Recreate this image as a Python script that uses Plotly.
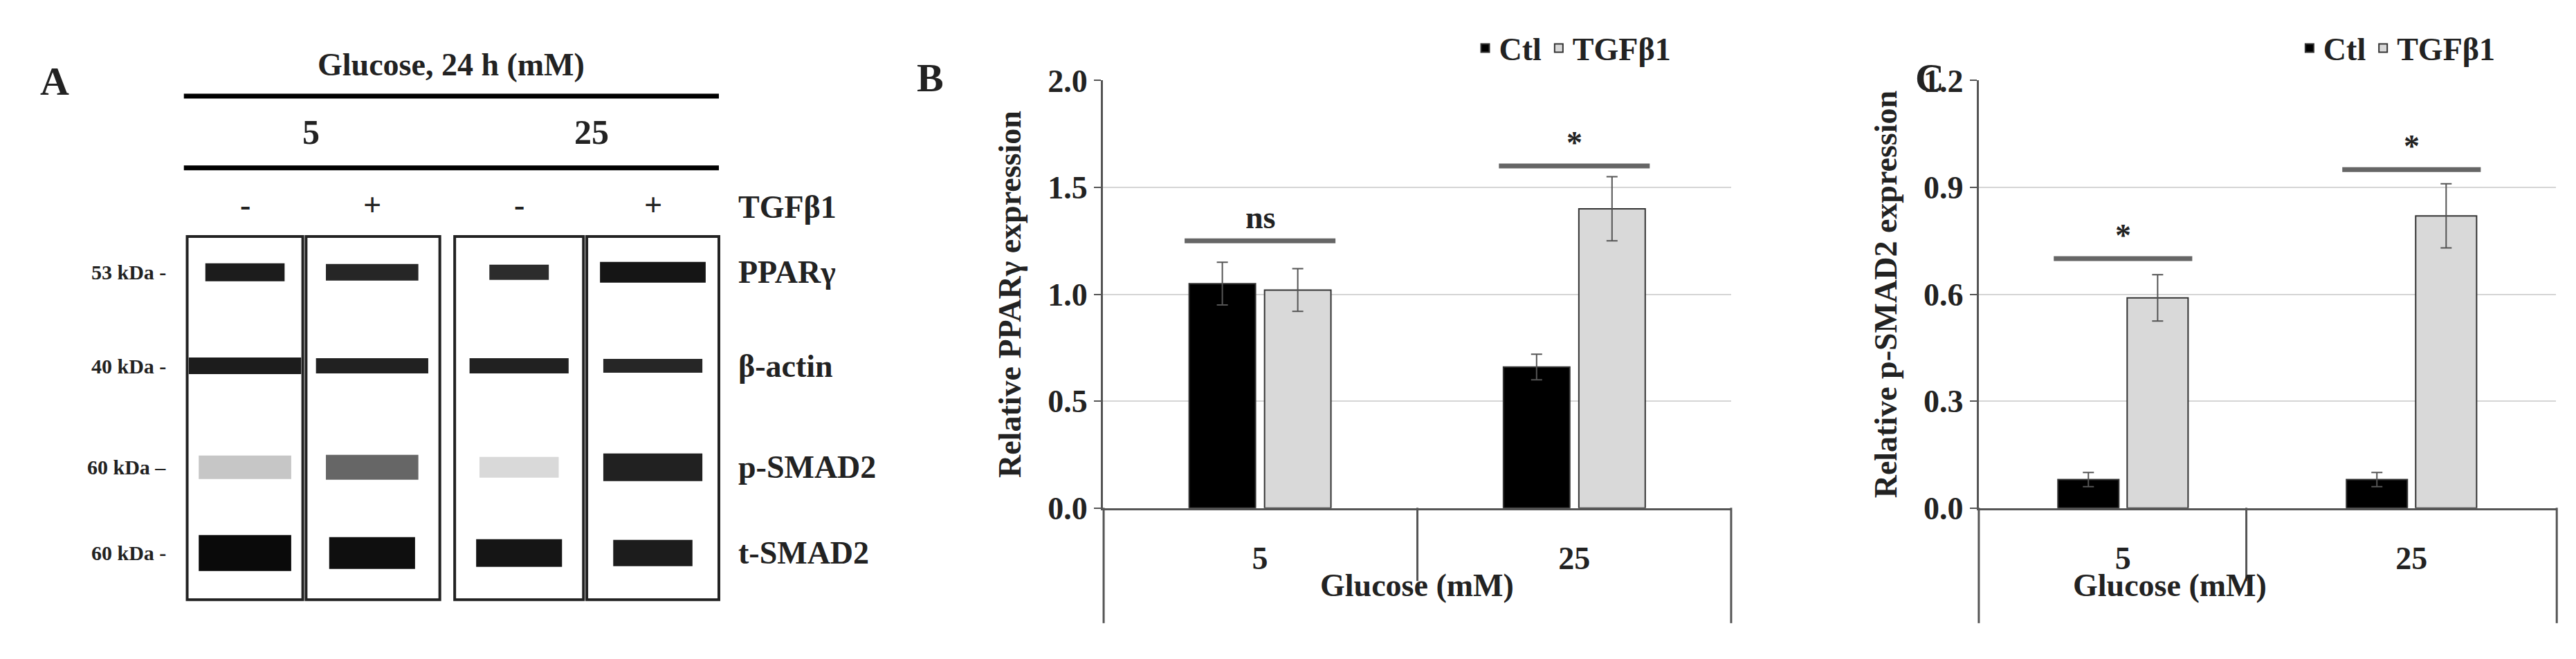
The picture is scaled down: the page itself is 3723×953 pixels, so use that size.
import plotly.graph_objects as go

# ---------------- data ----------------
groups = ["5", "25"]
group_x = [0, 1]
ppar_ctl = [1.05, 0.66]
ppar_ctl_err = [0.10, 0.06]
ppar_tgf = [1.02, 1.40]
ppar_tgf_err = [0.10, 0.15]
smad_ctl = [0.08, 0.08]
smad_ctl_err = [0.02, 0.02]
smad_tgf = [0.59, 0.82]
smad_tgf_err = [0.065, 0.09]
b_ticks = [0.0, 0.5, 1.0, 1.5, 2.0]
c_ticks = [0.0, 0.3, 0.6, 0.9, 1.2]

# blot: lanes (5-, 5+, 25-, 25+), proteins and band intensities (0..1)
lane_pos = [145, 222, 311, 392]
lane_signs = ["-", "+", "-", "+"]
proteins = ["PPARγ", "β-actin", "p-SMAD2", "t-SMAD2"]
kda = ["53 kDa -", "40 kDa -", "60 kDa –", "60 kDa -"]
row_pos = [160, 220, 285, 340]
band_int = [[0.92, 0.88, 0.85, 0.95],
            [0.92, 0.9, 0.9, 0.88],
            [0.18, 0.6, 0.1, 0.9],
            [1.0, 0.98, 0.95, 0.92]]
band_len = [[24, 28, 18, 32], [34, 34, 30, 30], [28, 28, 24, 30], [28, 26, 26, 24]]
band_thick = [[26, 24, 22, 30], [24, 22, 22, 20], [34, 36, 30, 40], [52, 46, 40, 38]]

FONT = "Liberation Serif"
fs = 46
BF = dict(size=fs, family=FONT, color="#222", weight="bold")

fig = go.Figure()

# ---- panel A (overlay axis in reference-pixel units) ----
for r in range(4):
    for l in range(4):
        g = int(round(255 * (1 - band_int[r][l]) * 0.9 + 10))
        c = f"rgb({g},{g},{g})"
        fig.add_trace(go.Scatter(
            x=[lane_pos[l] - band_len[r][l], lane_pos[l] + band_len[r][l]],
            y=[row_pos[r], row_pos[r]], mode="lines",
            line=dict(color=c, width=band_thick[r][l]),
            xaxis="x3", yaxis="y3", showlegend=False, hoverinfo="skip"))

def bars(ctl, ctl_err, tgf, tgf_err, xa, ya, lg):
    fig.add_trace(go.Bar(x=group_x, y=ctl, name="Ctl", marker=dict(color="black", line=dict(color="#333", width=2)),
                         error_y=dict(type="data", array=ctl_err, color="#555", thickness=2, width=8),
                         xaxis=xa, yaxis=ya, legend=lg))
    fig.add_trace(go.Bar(x=group_x, y=tgf, name="TGFβ1", marker=dict(color="#d9d9d9", line=dict(color="#333", width=2)),
                         error_y=dict(type="data", array=tgf_err, color="#555", thickness=2, width=8),
                         xaxis=xa, yaxis=ya, legend=lg))

bars(ppar_ctl, ppar_ctl_err, ppar_tgf, ppar_tgf_err, "x", "y", "legend")
bars(smad_ctl, smad_ctl_err, smad_tgf, smad_tgf_err, "x2", "y2", "legend2")

# significance bars
sig_b = [(0, 1.25, "ns"), (1, 1.60, "*")]
sig_c = [(0, 0.70, "*"), (1, 0.95, "*")]
for ax, sigs, off in (("", sig_b, 0.11), ("2", sig_c, 0.065)):
    for i, yv, txt in sigs:
        fig.add_trace(go.Scatter(x=[group_x[i] - 0.24, group_x[i] + 0.24], y=[yv, yv], mode="lines",
                                 line=dict(color="#666", width=7), xaxis="x" + ax, yaxis="y" + ax,
                                 showlegend=False, hoverinfo="skip"))
        fig.add_annotation(x=group_x[i], y=yv + off, text=txt, showarrow=False, xref="x" + ax, yref="y" + ax,
                           font=BF, yanchor="middle")

axis_common = dict(showline=True, linecolor="#555", linewidth=3, zeroline=False, tickfont=BF)
ydom = [0.222, 0.9075]
xcommon = dict(showgrid=False, ticks="", tickvals=group_x, ticktext=groups, range=[-0.5, 1.5],
               ticklabelstandoff=30, **axis_common)
ycommon = dict(tickformat=".1f", ticks="outside", ticklen=10, tickwidth=2, tickcolor="#555",
               showgrid=True, gridcolor="#d5d5d5", gridwidth=2, **axis_common)
fig.update_layout(
    width=3723, height=953, margin=dict(l=0, r=0, t=0, b=0),
    paper_bgcolor="white", plot_bgcolor="rgba(0,0,0,0)",
    font=dict(family=FONT, color="#222"),
    barmode="group", bargap=0.52, bargroupgap=0.12,
    xaxis=dict(domain=[0.426, 0.670], anchor="y", **xcommon),
    yaxis=dict(domain=ydom, anchor="x", range=[0, 2.0], tickvals=b_ticks,
               title=dict(text="Relative PPARγ expression", font=BF, standoff=25), **ycommon),
    xaxis2=dict(domain=[0.766, 0.990], anchor="y2", **xcommon),
    yaxis2=dict(domain=ydom, anchor="x2", range=[0, 1.2], tickvals=c_ticks,
                title=dict(text="Relative p-SMAD2 expression", font=BF, standoff=25), **ycommon),
    xaxis3=dict(domain=[0, 1], range=[0, 1560], visible=False, fixedrange=True, anchor="y3"),
    yaxis3=dict(domain=[0, 1], range=[400, 0], visible=False, fixedrange=True, anchor="x3"),
    legend=dict(orientation="h", x=0.648, xanchor="right", y=1.0, yanchor="top",
                font=BF, itemwidth=30, bgcolor="rgba(0,0,0,0)"),
    legend2=dict(orientation="h", x=0.968, xanchor="right", y=1.0, yanchor="top",
                 font=BF, itemwidth=30, bgcolor="rgba(0,0,0,0)"),
)

def px(x):
    return x / 1560.0
def py(y):
    return 1 - y / 400.0

for xs in ([665, 855, 1045], [1195, 1357, 1545]):
    for j, xv in enumerate(xs):
        y_end = 385 if j != 1 else 358
        fig.add_shape(type="line", xref="paper", yref="paper", x0=px(xv), x1=px(xv),
                      y0=py(311), y1=py(y_end), line=dict(color="#555", width=3))
for xc in (855, 1370):
    fig.add_annotation(xref="paper", yref="paper", x=px(xc), y=py(373), text="Glucose (mM)",
                       showarrow=False, font=BF)

# panel letters
for xl, yl, t in ((20, 22, "A"), (560, 20, "B"), (1175, 20, "C")):
    fig.add_annotation(xref="paper", yref="paper", x=px(xl), y=py(yl), text=t,
                       showarrow=False, font=dict(size=58, family=FONT, color="#222", weight="bold"))

# panel A texts and boxes
fig.add_annotation(xref="x3", yref="y3", x=270, y=27, text="Glucose, 24 h (mM)", showarrow=False, font=BF)
for yv in (47, 93):
    fig.add_shape(type="line", xref="x3", yref="y3", x0=108, x1=432, y0=yv, y1=yv,
                  line=dict(color="black", width=7))
for xv, t in ((185, "5"), (355, "25")):
    fig.add_annotation(xref="x3", yref="y3", x=xv, y=70, text=t, showarrow=False,
                       font=dict(size=fs + 4, family=FONT, color="#222", weight="bold"))
for xv, t in zip(lane_pos, lane_signs):
    fig.add_annotation(xref="x3", yref="y3", x=xv, y=117, text=t, showarrow=False, font=BF)
fig.add_annotation(xref="x3", yref="y3", x=443, y=118, text="TGFβ1", showarrow=False,
                   xanchor="left", font=BF)
for x0, x1 in ((110, 180), (182, 263), (272, 350), (352, 432)):
    fig.add_shape(type="rect", xref="x3", yref="y3", x0=x0, x1=x1, y0=137, y1=370,
                  line=dict(color="#222", width=4), layer="above")
for yv, p, k in zip(row_pos, proteins, kda):
    fig.add_annotation(xref="x3", yref="y3", x=443, y=yv, text=p, showarrow=False,
                       xanchor="left", font=BF)
    fig.add_annotation(xref="x3", yref="y3", x=98, y=yv, text=k, showarrow=False,
                       xanchor="right", font=dict(size=30, family=FONT, color="#222", weight="bold"))

fig.write_html("out.html")
